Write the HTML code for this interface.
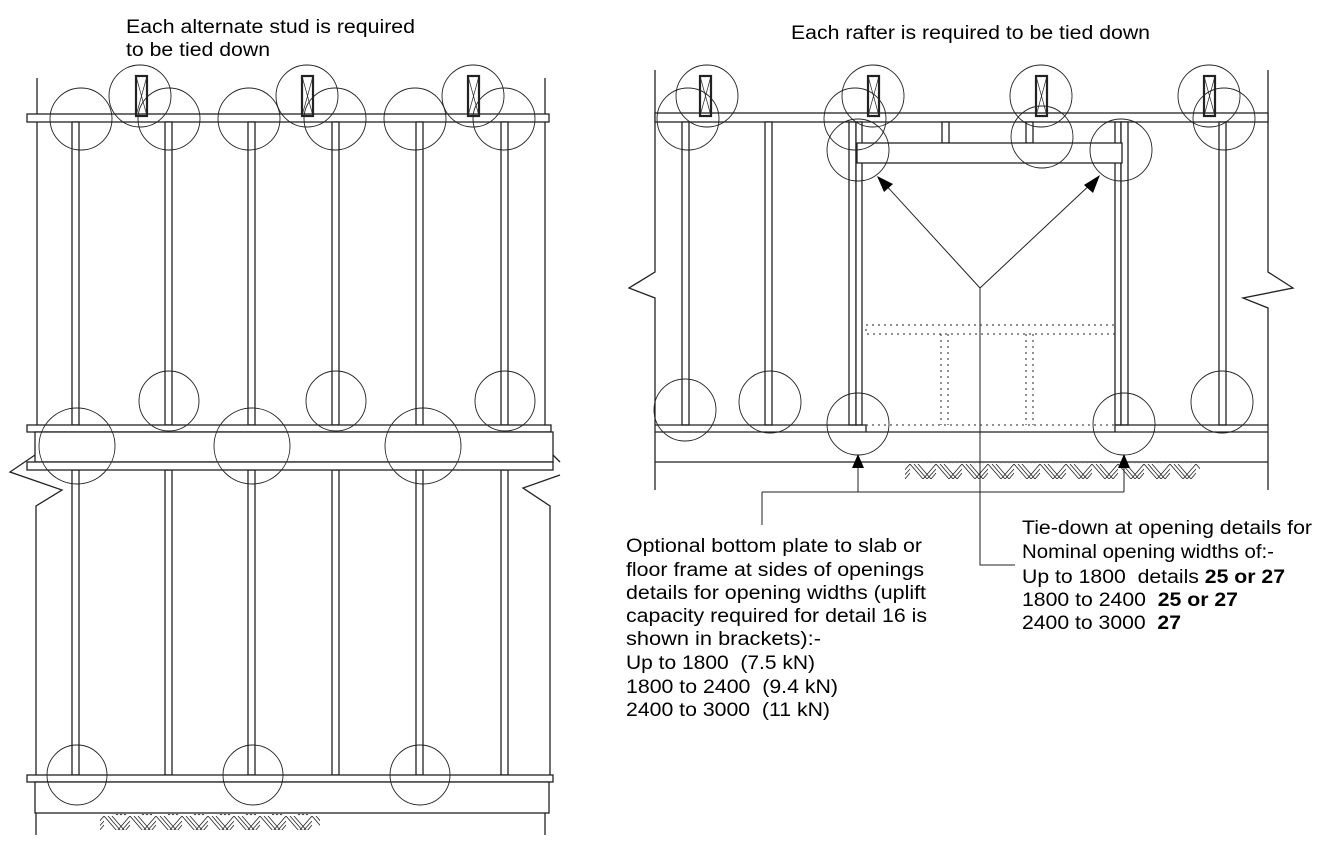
<!DOCTYPE html>
<html><head><meta charset="utf-8"><style>
html,body{margin:0;padding:0;background:#fff;}
svg{display:block;}
text{font-family:"Liberation Sans",Arial,sans-serif;font-size:19px;fill:#000;}
</style></head><body>
<svg width="1326" height="842" viewBox="0 0 1326 842" xmlns="http://www.w3.org/2000/svg">
<defs>
<pattern id="hatch" width="26" height="16" patternUnits="userSpaceOnUse">
<path d="M0 0 L13 15 M4 0 L17 15 M8 0 L21 15 M13 15 L26 0 M17 15 L26 5 M21 15 L26 9" stroke="#222" stroke-width="0.8" fill="none"/>
</pattern>
</defs>
<g fill="none" stroke="#222" stroke-width="1.3">
<!-- LEFT DIAGRAM -->
<line x1="37" y1="78" x2="37" y2="432"/>
<line x1="545" y1="78" x2="545" y2="432"/>
<path d="M35 455 L10 472 L62 490 L36 506 L36 780"/>
<path d="M553 455 L560 462 M560 475 L523 488 L550 506 L550 780"/>
<line x1="36" y1="813" x2="36" y2="835"/>
<line x1="545" y1="813" x2="545" y2="835"/>
<rect x="27" y="114" width="522" height="8" fill="#fff"/>
<g fill="#fff">
<rect x="72" y="122" width="7" height="303"/><rect x="165" y="122" width="7" height="303"/>
<rect x="248" y="122" width="7" height="303"/><rect x="332" y="122" width="7" height="303"/>
<rect x="416" y="122" width="7" height="303"/><rect x="501" y="122" width="7" height="303"/>
<rect x="72" y="470" width="7" height="305"/><rect x="165" y="470" width="7" height="305"/>
<rect x="248" y="470" width="7" height="305"/><rect x="332" y="470" width="7" height="305"/>
<rect x="416" y="470" width="7" height="305"/><rect x="501" y="470" width="7" height="305"/>
</g>
<rect x="27" y="425" width="524" height="7" fill="#fff"/>
<rect x="35" y="432" width="518" height="30" fill="#fff"/>
<rect x="27" y="462" width="526" height="8" fill="#fff"/>
<rect x="27" y="775" width="526" height="7" fill="#fff"/>
<rect x="35" y="782" width="514" height="31" fill="#fff"/>
<rect x="100" y="814" width="220" height="16" fill="url(#hatch)" stroke="none"/>
<g stroke-width="2.2"><rect x="136" y="76" width="11" height="40"/><rect x="302" y="76" width="11" height="40"/><rect x="468" y="76" width="11" height="40"/></g>
<g stroke-width="0.7"><path d="M136 76 L147 116 M147 76 L136 116 M302 76 L313 116 M313 76 L302 116 M468 76 L479 116 M479 76 L468 116"/></g>
<g stroke-width="0.9">
<circle cx="81" cy="119" r="31"/><circle cx="140" cy="96" r="31"/><circle cx="169" cy="119" r="31"/>
<circle cx="249" cy="119" r="31"/><circle cx="307" cy="96" r="31"/><circle cx="335" cy="119" r="31"/>
<circle cx="415" cy="119" r="31"/><circle cx="473" cy="96" r="31"/><circle cx="504" cy="119" r="31"/>
<circle cx="169" cy="401" r="30"/><circle cx="336" cy="401" r="30"/><circle cx="505" cy="401" r="30"/>
<circle cx="77" cy="446" r="38"/><circle cx="252" cy="446" r="38"/><circle cx="423" cy="446" r="38"/>
<circle cx="77" cy="775" r="30"/><circle cx="253" cy="775" r="30"/><circle cx="420" cy="775" r="30"/>
</g>
<!-- RIGHT DIAGRAM -->
<path d="M655 70 L655 272 L629 288 L655 298 L655 490"/>
<path d="M1268 70 L1268 272 L1293 288 L1243 298 L1268 308 L1268 490"/>
<rect x="655" y="113" width="613" height="9" fill="#fff"/>
<g fill="#fff">
<rect x="682" y="122" width="7" height="303"/><rect x="765" y="122" width="7" height="303"/>
<rect x="849" y="122" width="7" height="303"/><rect x="856" y="122" width="6" height="303"/>
<rect x="1115" y="122" width="6" height="303"/><rect x="1121" y="122" width="7" height="303"/>
<rect x="1219" y="122" width="7" height="303"/>
<rect x="942" y="122" width="7" height="21"/><rect x="1026" y="122" width="7" height="21"/>
</g>
<rect x="857" y="143" width="265" height="20" fill="#fff"/>
<path d="M655 425 L866 425 L866 432 M1115 432 L1115 425 L1268 425"/>
<line x1="655" y1="432" x2="1268" y2="432"/>
<line x1="655" y1="462" x2="1268" y2="462"/>
<rect x="905" y="463" width="295" height="16" fill="url(#hatch)" stroke="none"/>
<g stroke-dasharray="2,4" stroke-width="1">
<rect x="866" y="325" width="249" height="9"/>
<path d="M941 334 L941 425 M948 334 L948 425 M1026 334 L1026 425 M1033 334 L1033 425 M866 425 L1115 425"/>
</g>
<g stroke-width="2.2"><rect x="700" y="76" width="11" height="40"/><rect x="868" y="76" width="11" height="40"/><rect x="1036" y="76" width="11" height="40"/><rect x="1204" y="76" width="11" height="40"/></g>
<g stroke-width="0.7"><path d="M700 76 L711 116 M711 76 L700 116 M868 76 L879 116 M879 76 L868 116 M1036 76 L1047 116 M1047 76 L1036 116 M1204 76 L1215 116 M1215 76 L1204 116"/></g>
<g stroke-width="0.9">
<circle cx="707" cy="96" r="31"/><circle cx="688" cy="119" r="31"/>
<circle cx="873" cy="96" r="31"/><circle cx="855" cy="119" r="31"/><circle cx="858" cy="150" r="31"/>
<circle cx="1041" cy="96" r="31"/><circle cx="1042" cy="137" r="31"/>
<circle cx="1209" cy="96" r="31"/><circle cx="1224" cy="119" r="31"/>
<circle cx="1121" cy="150" r="31"/>
<circle cx="685" cy="410" r="31"/><circle cx="770" cy="402" r="31"/><circle cx="858" cy="424" r="31"/>
<circle cx="1124" cy="424" r="31"/><circle cx="1222" cy="402" r="31"/>
</g>
<!-- leaders -->
<g stroke-width="1">
<path d="M883 182 L980 288 L1094 181"/>
<path d="M980 288 L980 565 L1015 565"/>
<path d="M858 466 L858 492 M1124 466 L1124 492 M762 492 L1124 492 M762 492 L762 525"/>
</g>
</g>
<g fill="#000">
<path d="M877 176 L893 184 L884 192 Z"/>
<path d="M1100 175 L1093 193 L1084 185 Z"/>
<path d="M858 454 L852 468 L864 468 Z"/>
<path d="M1124 454 L1118 468 L1130 468 Z"/>
</g>
<text x="126" y="33" textLength="289" lengthAdjust="spacingAndGlyphs">Each alternate stud is required</text>
<text x="126" y="56" textLength="144" lengthAdjust="spacingAndGlyphs">to be tied down</text>
<text x="791" y="39" textLength="359" lengthAdjust="spacingAndGlyphs">Each rafter is required to be tied down</text>
<text x="626" y="552" textLength="296" lengthAdjust="spacingAndGlyphs">Optional bottom plate to slab or</text>
<text x="626" y="576" textLength="298" lengthAdjust="spacingAndGlyphs">floor frame at sides of openings</text>
<text x="626" y="599" textLength="300" lengthAdjust="spacingAndGlyphs">details for opening widths (uplift</text>
<text x="626" y="622" textLength="301" lengthAdjust="spacingAndGlyphs">capacity required for detail 16 is</text>
<text x="626" y="645" textLength="195" lengthAdjust="spacingAndGlyphs">shown in brackets):-</text>
<text x="626" y="669" textLength="189" lengthAdjust="spacingAndGlyphs" xml:space="preserve">Up to 1800  (7.5 kN)</text>
<text x="626" y="693" textLength="212" lengthAdjust="spacingAndGlyphs" xml:space="preserve">1800 to 2400  (9.4 kN)</text>
<text x="626" y="716" textLength="204" lengthAdjust="spacingAndGlyphs" xml:space="preserve">2400 to 3000  (11 kN)</text>
<text x="1022" y="534" textLength="290" lengthAdjust="spacingAndGlyphs">Tie-down at opening details for</text>
<text x="1022" y="558" textLength="252" lengthAdjust="spacingAndGlyphs">Nominal opening widths of:-</text>
<text x="1022" y="583" textLength="263" lengthAdjust="spacingAndGlyphs" xml:space="preserve">Up to 1800  details <tspan font-weight="bold">25 or 27</tspan></text>
<text x="1022" y="606" textLength="216" lengthAdjust="spacingAndGlyphs" xml:space="preserve">1800 to 2400  <tspan font-weight="bold">25 or 27</tspan></text>
<text x="1022" y="629" textLength="159" lengthAdjust="spacingAndGlyphs" xml:space="preserve">2400 to 3000  <tspan font-weight="bold">27</tspan></text>
</svg>
</body></html>
